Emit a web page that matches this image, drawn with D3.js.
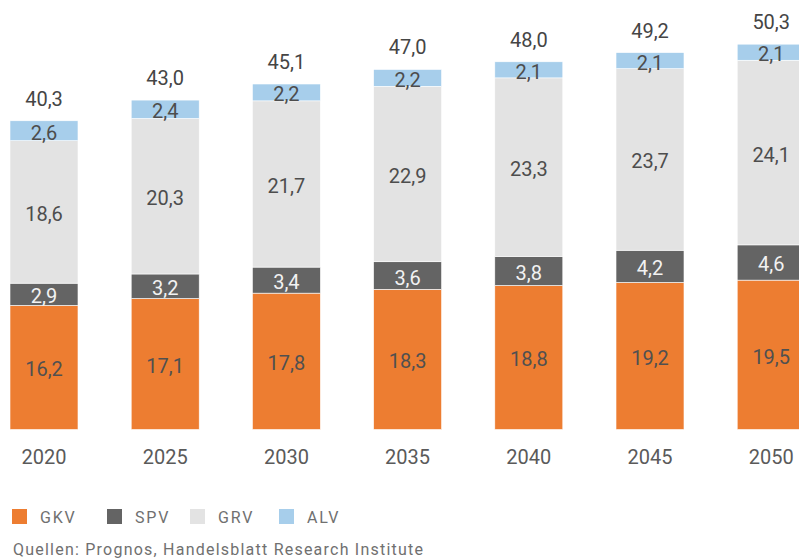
<!DOCTYPE html>
<html>
<head>
<meta charset="utf-8">
<script src="https://cdn.jsdelivr.net/npm/d3@7"></script>
<style>
  body { margin: 0; background: #fff; }
  svg { display: block; font-family: Roboto, "Open Sans", sans-serif; }
</style>
</head>
<body>
<div id="chart"></div>
<script>
const years = ["2020", "2025", "2030", "2035", "2040", "2045", "2050"]
const gkv = [16.2, 17.1, 17.8, 18.3, 18.8, 19.2, 19.5]
const spv = [2.9, 3.2, 3.4, 3.6, 3.8, 4.2, 4.6]
const grv = [18.6, 20.3, 21.7, 22.9, 23.3, 23.7, 24.1]
const alv = [2.6, 2.4, 2.2, 2.2, 2.1, 2.1, 2.1]
const totals = [40.3, 43.0, 45.1, 47.0, 48.0, 49.2, 50.3]
const seriesNames = ["GKV", "SPV", "GRV", "ALV"]
const seriesColors = ["#ED7D31", "#646464", "#E3E3E3", "#A7CEEB"]
const labelColors = ["#505050", "#f2f2f2", "#4d4d4d", "#4d4d4d"]

const width = 799, height = 558
const svg = d3.select("#chart").append("svg").attr("width", width).attr("height", height)

const fmt = v => v.toFixed(1).replace(".", ",")

const table = years.map((y, i) => ({year: y, GKV: gkv[i], SPV: spv[i], GRV: grv[i], ALV: alv[i], total: totals[i]}))
const stacked = d3.stack().keys(seriesNames)(table)

const x = d3.scaleBand().domain(years).range([10, 805.2]).paddingInner(0.439).paddingOuter(0)
const y = d3.scaleLinear().domain([0, 56]).range([429.5, 0.5])

const bars = svg.append("g")
stacked.forEach(function(layer, k) {
    const g = bars.append("g")
    g.selectAll("rect").data(layer).enter().append("rect")
        .attr("x", d => x(d.data.year))
        .attr("y", d => y(d[1]))
        .attr("width", x.bandwidth())
        .attr("height", d => y(d[0]) - y(d[1]))
        .attr("fill", seriesColors[k])
        .attr("stroke", "#fff")
        .attr("stroke-width", 0.6)
    g.selectAll("text").data(layer).enter().append("text")
        .attr("x", d => x(d.data.year) + x.bandwidth() / 2)
        .attr("y", d => (y(d[0]) + y(d[1])) / 2)
        .attr("dy", "0.45em")
        .attr("text-anchor", "middle")
        .attr("font-size", 20)
        .attr("fill", labelColors[k])
        .text(d => fmt(d[1] - d[0]))
})

// totals above bars
svg.append("g").selectAll("text").data(table).enter().append("text")
    .attr("x", d => x(d.year) + x.bandwidth() / 2)
    .attr("y", d => y(d.total) - 15)
    .attr("text-anchor", "middle")
    .attr("font-size", 20)
    .attr("fill", "#454545")
    .text(d => fmt(d.total))

// year labels
const xAxis = d3.axisBottom(x).tickSize(0).tickPadding(0)
const xg = svg.append("g").attr("transform", "translate(0, 450)").call(xAxis)
xg.select(".domain").remove()
xg.selectAll("text").attr("font-size", 20).attr("fill", "#5a5a5a").attr("font-family", "Roboto, sans-serif")

// legend
const legendX = [12, 107, 190, 279]
const legend = svg.append("g")
seriesNames.forEach(function(name, k) {
    legend.append("rect").attr("x", legendX[k]).attr("y", 509).attr("width", 15).attr("height", 15).attr("fill", seriesColors[k])
    legend.append("text").attr("x", legendX[k] + 28).attr("y", 523).attr("font-size", 16)
        .attr("fill", "#707070").attr("letter-spacing", 1.8).text(name)
})

svg.append("text").attr("x", 13).attr("y", 555).attr("font-size", 16)
    .attr("fill", "#707070").attr("textLength", 410).attr("lengthAdjust", "spacing")
    .text("Quellen: Prognos, Handelsblatt Research Institute")
</script>
</body>
</html>
